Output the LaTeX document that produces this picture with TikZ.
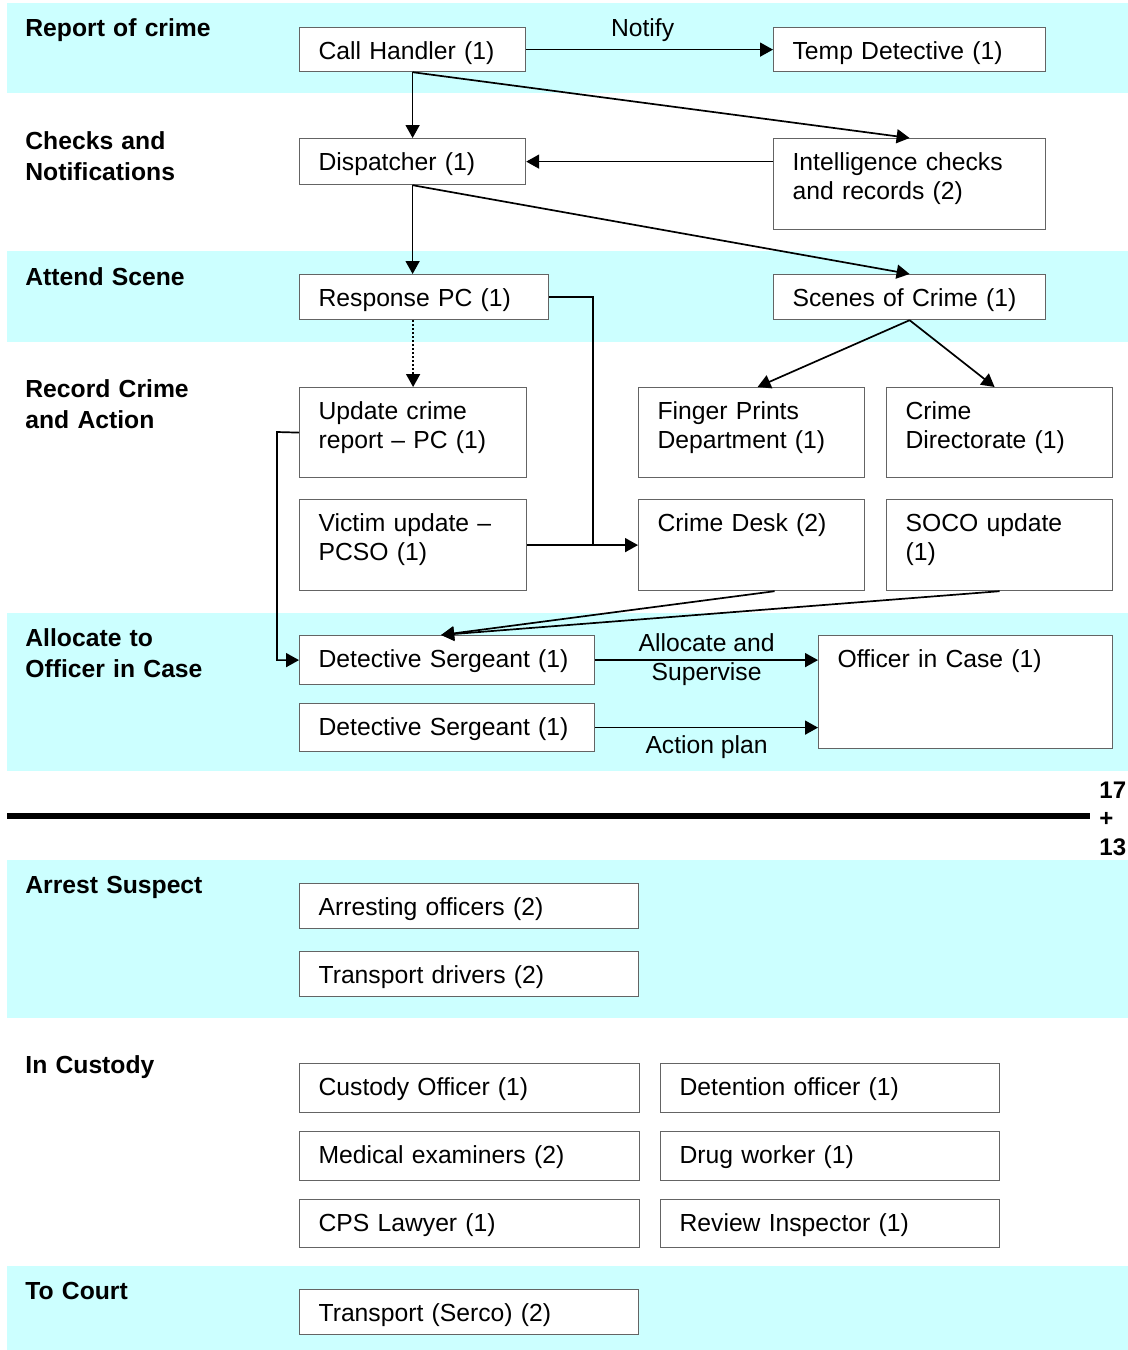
\documentclass[tikz,border=0pt]{standalone}
\usepackage{fontspec}
\setmainfont{Liberation Sans}
\usetikzlibrary{arrows.meta,calc}
\definecolor{band}{RGB}{204,255,255}
\definecolor{edge}{RGB}{100,100,100}
\newcommand\boxfont{\fontsize{12.35}{14.5}\selectfont}
\newcommand\secfont{\fontsize{12.35}{15.5}\selectfont\bfseries}
% name, x, y (top-left, px), width, height (px), text
\newcommand\mybox[6]{%
  \pgfmathsetmacro\bxw{#4/2-19}%
  \pgfmathsetmacro\bxd{#5/2-16}%
  \node[tbox,text width=\bxw pt,text depth=\bxd pt] (#1) at (#2,#3) {#6};}
\begin{document}
\begin{tikzpicture}[x=0.5pt,y=-0.5pt,
  tbox/.style={draw=edge,line width=0.6pt,fill=white,anchor=north west,
    inner xsep=9.5pt,inner ysep=0pt,align=left,text height=16pt,font=\boxfont},
  sec/.style={anchor=base west,inner sep=0pt,align=left,text width=110pt,font=\secfont},
  arr/.style={-{Triangle[length=6.5pt,width=7pt]},line width=0.85pt},
  conn/.style={line width=0.85pt},
  lbl/.style={font=\boxfont,inner sep=0pt}]
\useasboundingbox (0,0) rectangle (1128,1350);
\fill[white] (0,0) rectangle (1128,1350);
% bands
\fill[band] (7,3) rectangle (1128,93);
\fill[band] (7,251) rectangle (1128,342);
\fill[band] (7,613) rectangle (1128,771);
\fill[band] (7,860) rectangle (1128,1018);
\fill[band] (7,1266) rectangle (1128,1350);
% divider
\draw[line width=3pt] (7,816) -- (1090,816);
% section labels
\node[sec] (s1) at (25,36) {Report of crime};
\node[sec] (s2) at (25,149) {Checks and\\Notifications};
\node[sec] (s3) at (25,285) {Attend Scene};
\node[sec] (s4) at (25,397) {Record Crime\\and Action};
\node[sec] (s5) at (25,646) {Allocate to\\Officer in Case};
\node[sec] (s6) at (25,893) {Arrest Suspect};
\node[sec] (s7) at (25,1073) {In Custody};
\node[sec] (s8) at (25,1299) {To Court};
\node[sec,text width=14pt,font=\fontsize{12}{14.25}\selectfont\bfseries] (tot) at (1099,798) {17\\+\\13};
% boxes
\mybox{ch}{299}{27}{226}{44}{Call Handler (1)}
\mybox{td}{773}{27}{272}{44}{Temp Detective (1)}
\mybox{dis}{299}{138}{226}{46}{Dispatcher (1)}
\mybox{intel}{773}{138}{272}{91}{Intelligence checks\\and records (2)}
\mybox{rpc}{299}{274}{249}{45}{Response PC (1)}
\mybox{soc}{773}{274}{272}{45}{Scenes of Crime (1)}
\mybox{upd}{299}{387}{227}{90}{Update crime\\report \textendash{} PC (1)}
\mybox{fp}{638}{387}{226}{90}{Finger Prints\\Department (1)}
\mybox{cd}{886}{387}{226}{90}{Crime\\Directorate (1)}
\mybox{vic}{299}{499}{227}{91}{Victim update \textendash\\PCSO (1)}
\mybox{desk}{638}{499}{226}{91}{Crime Desk (2)}
\mybox{soco}{886}{499}{226}{91}{SOCO update\\(1)}
\mybox{ds1}{299}{635}{295}{49}{Detective Sergeant (1)}
\mybox{ds2}{299}{703}{295}{48}{Detective Sergeant (1)}
\mybox{oic}{818}{635}{294}{113}{Officer in Case (1)}
\mybox{arr}{299}{883}{339}{45}{Arresting officers (2)}
\mybox{trd}{299}{951}{339}{45}{Transport drivers (2)}
\mybox{cust}{299}{1063}{340}{49}{Custody Officer (1)}
\mybox{det}{660}{1063}{339}{49}{Detention officer (1)}
\mybox{med}{299}{1131}{340}{49}{Medical examiners (2)}
\mybox{drug}{660}{1131}{339}{49}{Drug worker (1)}
\mybox{cps}{299}{1199}{340}{48}{CPS Lawyer (1)}
\mybox{rev}{660}{1199}{339}{48}{Review Inspector (1)}
\mybox{trs}{299}{1289}{339}{45}{Transport (Serco) (2)}
% connectors
\draw[arr] (ch.east) -- node[lbl,anchor=base,yshift=6.5pt,xshift=-3.5pt]{Notify} (td.west);
\draw[arr] (ch.south) -- (dis.north);
\draw[arr] (ch.south) -- (intel.north);
\draw[arr] (dis.east -| intel.west) -- (dis.east);
\draw[arr] (dis.south) -- (dis.south |- rpc.north);
\draw[arr] (dis.south) -- (soc.north);
\draw[arr,line width=0.8pt,dash pattern=on 0.8pt off 1.2pt] (upd.north |- rpc.south) -- (upd.north);
\coordinate (jn) at (593,545);
\draw[conn] (rpc.east) -| (jn);
\draw[arr] (vic.east) -- (desk.west);
\coordinate (lk) at (277,432);
\draw[arr] (upd.west) -- (lk) |- (ds1.west);
\draw[arr] (soc.south) -- ([xshift=3pt]fp.north);
\draw[arr] (soc.south) -- ([xshift=-2.5pt]cd.north);
\draw[arr] ([xshift=11.5pt]desk.south) -- ([xshift=-3pt]ds1.north);
\draw[arr] (soco.south) -- ([xshift=-3pt]ds1.north);
\draw[arr] (ds1.east) -- node[lbl,align=center]{Allocate and\\Supervise} (ds1.east -| oic.west);
\draw[arr] (ds2.east) -- node[lbl,anchor=base,yshift=-13pt]{Action plan} (ds2.east -| oic.west);
\end{tikzpicture}
\end{document}
